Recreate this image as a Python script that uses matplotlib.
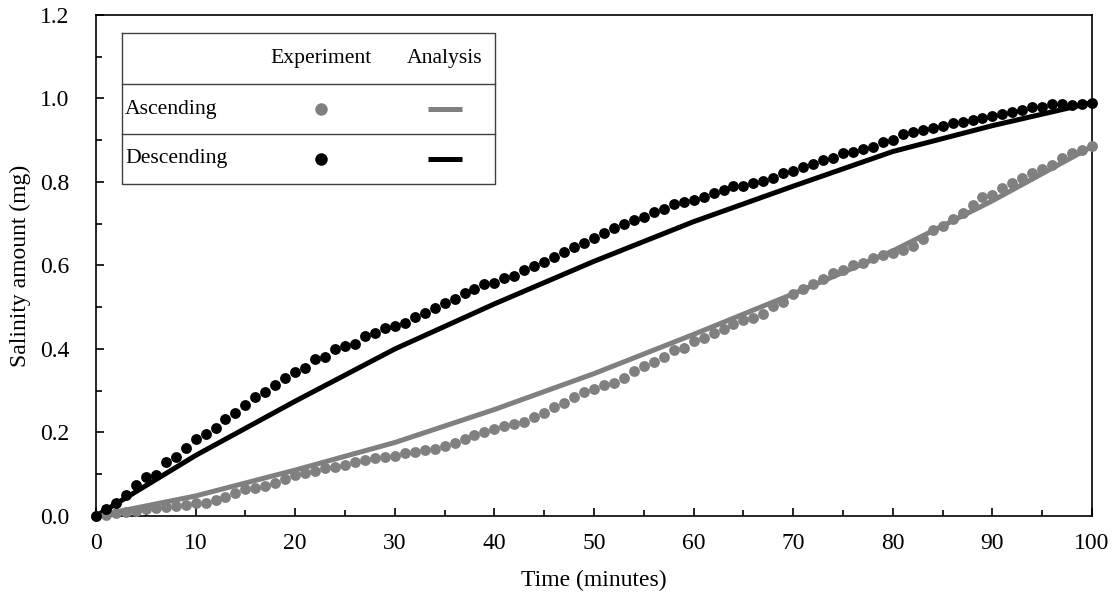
import matplotlib
matplotlib.use("Agg")
import matplotlib.pyplot as plt
import numpy as np
from matplotlib.ticker import MultipleLocator, FormatStrFormatter


# измерения, каждую минуту
time_exp = np.arange(0, 101)
desc_exp = [
    0.0, 0.016, 0.032, 0.05, 0.074, 0.093, 0.098, 0.130, 0.142, 0.162,
    0.184, 0.196, 0.211, 0.232, 0.247, 0.266, 0.286, 0.296, 0.314, 0.330,
    0.346, 0.354, 0.376, 0.382, 0.399, 0.407, 0.411, 0.430, 0.439, 0.450,
    0.455, 0.463, 0.476, 0.487, 0.497, 0.511, 0.519, 0.535, 0.543, 0.555,
    0.557, 0.569, 0.575, 0.589, 0.599, 0.609, 0.621, 0.633, 0.645, 0.655,
    0.667, 0.679, 0.690, 0.699, 0.709, 0.717, 0.729, 0.735, 0.747, 0.753,
    0.757, 0.763, 0.773, 0.782, 0.791, 0.790, 0.798, 0.802, 0.810, 0.821,
    0.827, 0.835, 0.842, 0.853, 0.857, 0.869, 0.873, 0.879, 0.885, 0.895,
    0.901, 0.915, 0.919, 0.925, 0.930, 0.934, 0.941, 0.944, 0.948, 0.953,
    0.959, 0.964, 0.967, 0.972, 0.979, 0.980, 0.987, 0.987, 0.984, 0.988,
    0.990,
]
asc_exp = [
    0.0, 0.003, 0.006, 0.009, 0.012, 0.016, 0.020, 0.022, 0.025, 0.026,
    0.030, 0.032, 0.038, 0.046, 0.054, 0.064, 0.068, 0.072, 0.078, 0.089,
    0.098, 0.104, 0.108, 0.114, 0.118, 0.122, 0.129, 0.134, 0.140, 0.142,
    0.144, 0.150, 0.154, 0.158, 0.160, 0.168, 0.176, 0.184, 0.194, 0.200,
    0.208, 0.216, 0.220, 0.226, 0.238, 0.247, 0.260, 0.270, 0.286, 0.298,
    0.304, 0.314, 0.319, 0.331, 0.348, 0.359, 0.370, 0.380, 0.398, 0.403,
    0.420, 0.426, 0.438, 0.448, 0.459, 0.469, 0.475, 0.485, 0.502, 0.513,
    0.531, 0.544, 0.556, 0.567, 0.581, 0.589, 0.601, 0.607, 0.617, 0.625,
    0.629, 0.637, 0.647, 0.663, 0.685, 0.695, 0.711, 0.725, 0.745, 0.765,
    0.769, 0.785, 0.797, 0.810, 0.822, 0.830, 0.841, 0.857, 0.869, 0.877,
    0.886,
]

# расчёт, каждые 10 минут
time_an = [0, 10, 20, 30, 40, 50, 60, 70, 80, 90, 100]
desc_an = [0.0, 0.145, 0.275, 0.400, 0.508, 0.610, 0.705, 0.790, 0.873, 0.935, 0.990]
asc_an = [0.0, 0.048, 0.110, 0.176, 0.255, 0.341, 0.435, 0.532, 0.635, 0.755, 0.885]

GRAY = "#808080"
BLACK = "#000000"

plt.rcParams["font.family"] = ["Liberation Serif", "DejaVu Serif"]
plt.rcParams["font.size"] = 17

fig = plt.figure(figsize=(11.15, 5.95), dpi=100)
ax = fig.add_axes([0.0861, 0.1328, 0.8933, 0.842])

ax.plot(time_an, asc_an, color=GRAY, lw=3.6, zorder=2)
ax.plot(time_an, desc_an, color=BLACK, lw=3.6, zorder=2)
ax.plot(time_exp, asc_exp, "o", color=GRAY, ms=7.8, mec="none", zorder=3, clip_on=False)
ax.plot(time_exp, desc_exp, "o", color=BLACK, ms=7.8, mec="none", zorder=3, clip_on=False)

ax.set_xlim(0, 100)
ax.set_ylim(0, 1.2)
ax.xaxis.set_major_locator(MultipleLocator(10))
ax.xaxis.set_minor_locator(MultipleLocator(5))
ax.yaxis.set_major_locator(MultipleLocator(0.2))
ax.yaxis.set_minor_locator(MultipleLocator(0.1))
ax.yaxis.set_major_formatter(FormatStrFormatter("%.1f"))
ax.tick_params(which="both", direction="in", top=False, right=False, width=1.2)
ax.tick_params(which="major", length=6)
ax.tick_params(which="minor", length=4)
ax.tick_params(axis="x", which="major", pad=12)
ax.tick_params(axis="y", which="major", pad=19)
for s in ax.spines.values():
    s.set_linewidth(1.2)

ax.set_xlabel("Time (minutes)", labelpad=12)
ax.set_ylabel("Salinity amount (mg)", labelpad=7)

# легенда в виде таблицы
x0, x1 = 0.0261, 0.4006
rows = [0.964, 0.862, 0.7625, 0.6627]
tr = ax.transAxes
box_kw = dict(color="#404040", lw=1.0, transform=tr, zorder=5)
ax.plot([x0, x1, x1, x0, x0], [rows[0], rows[0], rows[3], rows[3], rows[0]], **box_kw)
ax.plot([x0, x1], [rows[1], rows[1]], **box_kw)
ax.plot([x0, x1], [rows[2], rows[2]], **box_kw)
ax.fill_between([x0, x1], rows[3], rows[0], color="white", transform=tr, zorder=4)

col_exp, col_an = 0.226, 0.350
fs = 15.6
ax.text(col_exp, (rows[0] + rows[1]) / 2, "Experiment", ha="center", va="center",
        fontsize=fs, transform=tr, zorder=6)
ax.text(col_an, (rows[0] + rows[1]) / 2, "Analysis", ha="center", va="center",
        fontsize=fs, transform=tr, zorder=6)
names = ["Ascending", "Descending"]
colors = [GRAY, BLACK]
for i in range(2):
    yc = (rows[i + 1] + rows[i + 2]) / 2
    ax.text(x0 + 0.003, yc, names[i], ha="left", va="center", fontsize=fs,
            transform=tr, zorder=6)
    ax.plot([col_exp], [yc], "o", color=colors[i], ms=9, mec="none",
            transform=tr, zorder=6)
    ax.plot([col_an - 0.017, col_an + 0.017], [yc, yc], color=colors[i], lw=3.6,
            transform=tr, zorder=6, solid_capstyle="butt")

fig.savefig("out.png", dpi=100)
